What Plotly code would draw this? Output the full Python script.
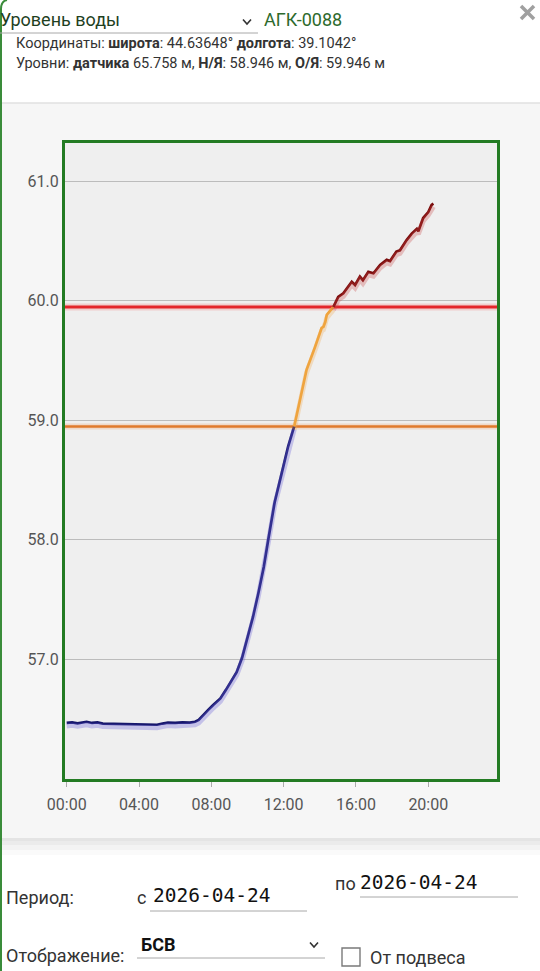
import plotly.graph_objects as go

# ---------------- data ----------------
DAY = "2026-04-24"
STATION = "АГК-0088"
LAT = "44.63648"
LON = "39.1042"
SENSOR = 65.758
NYA = 58.946   # Н/Я
OYA = 59.946   # О/Я

TIMES = [
    "00:00", "00:18", "00:36", "00:54", "01:06", "01:24", "01:42", "02:00", "02:30", "03:00",
    "03:30", "04:00", "04:30", "05:00", "05:18", "05:36", "06:00", "06:24", "06:48", "07:06",
    "07:18", "07:30", "07:48", "08:06", "08:30", "08:48", "09:06", "09:24", "09:42", "10:00",
    "10:18", "10:36", "10:54", "11:09", "11:30", "11:54", "12:15", "12:35",
    "12:54", "13:16", "13:44", "14:06", "14:12", "14:18", "14:23", "14:33", "14:45",
    "15:01", "15:18", "15:35", "15:46", "15:57", "16:13", "16:23", "16:41", "16:58", "17:20",
    "17:42", "17:53", "18:14", "18:26", "18:48", "19:05", "19:22", "19:27", "19:43", "20:00",
    "20:11", "20:17",
]
LEVELS = [
    56.465, 56.470, 56.462, 56.468, 56.475, 56.465, 56.470, 56.460, 56.458, 56.455,
    56.452, 56.455, 56.452, 56.450, 56.460, 56.468, 56.465, 56.470, 56.468, 56.475,
    56.490, 56.525, 56.570, 56.615, 56.670, 56.740, 56.820, 56.890, 57.010, 57.170,
    57.350, 57.550, 57.770, 58.000, 58.310, 58.560, 58.780, 58.946,
    59.180, 59.420, 59.610, 59.770, 59.780, 59.820, 59.880, 59.910, 59.946,
    60.030, 60.060, 60.115, 60.157, 60.130, 60.200, 60.170, 60.240, 60.228, 60.297,
    60.340, 60.330, 60.410, 60.420, 60.506, 60.560, 60.600, 60.580, 60.690, 60.740,
    60.800, 60.810,
]
Y_TICKS = [57.0, 58.0, 59.0, 60.0, 61.0]
X_TICKS = ["00:00", "04:00", "08:00", "12:00", "16:00", "20:00"]

# ---------------- layout helpers (pixels -> paper) ----------------
W, H = 540, 971
L, R, T, B = 65, 497, 143, 779


def X(px):
    return (px - L) / (R - L)


def Y(py):
    return (B - py) / (B - T)


stamps = [f"{DAY} {t}" for t in TIMES]

segments = [
    ([i for i, v in enumerate(LEVELS) if v <= NYA], "#17176c", "rgba(110,100,220,0.33)"),
    ([i for i, v in enumerate(LEVELS) if NYA <= v <= OYA], "#f0a238", "rgba(240,170,80,0.30)"),
    ([i for i, v in enumerate(LEVELS) if v >= OYA], "#7a0c0c", "rgba(200,70,70,0.30)"),
]

fig = go.Figure()
# shadows (drawn on an offset overlay axis)
for idx, col, shadow in segments:
    fig.add_trace(go.Scatter(
        x=[stamps[i] for i in idx], y=[LEVELS[i] for i in idx], mode="lines",
        line=dict(color=shadow, width=5), yaxis="y2", hoverinfo="skip"))
for idx, col, shadow in segments:
    fig.add_trace(go.Scatter(
        x=[stamps[i] for i in idx], y=[LEVELS[i] for i in idx], mode="lines",
        line=dict(color=col, width=2.7)))

Y0, Y1 = 55.996, 61.318
SHIFT = 3 / ((B - T) / (Y1 - Y0))
GREEN = "#237b23"

shapes = []
# white page areas above / below the chart card
shapes.append(dict(type="rect", xref="paper", yref="paper", x0=X(0), x1=X(W), y0=Y(0), y1=Y(103),
                   fillcolor="white", line_width=0, layer="below"))
shapes.append(dict(type="rect", xref="paper", yref="paper", x0=X(0), x1=X(W), y0=Y(840), y1=Y(H),
                   fillcolor="white", line_width=0, layer="below"))
for (a, b, c) in [(838, 841, "#e4e4e4"), (841, 845, "#ebebeb"), (845, 850, "#f3f3f3"), (850, 855, "#fafafa")]:
    shapes.append(dict(type="rect", xref="paper", yref="paper", x0=X(0), x1=X(W), y0=Y(a), y1=Y(b),
                       fillcolor=c, line_width=0, layer="below"))
shapes.append(dict(type="line", xref="paper", yref="paper", x0=X(0), x1=X(W), y0=Y(103), y1=Y(103),
                   line=dict(color="#e0e0e0", width=1.5), layer="below"))
# threshold lines
shapes.append(dict(type="line", xref="paper", yref="y", x0=0, x1=1, y0=OYA, y1=OYA,
                   line=dict(color="rgba(245,90,90,0.22)", width=7), layer="below"))
shapes.append(dict(type="line", xref="paper", yref="y", x0=0, x1=1, y0=OYA, y1=OYA,
                   line=dict(color="#e3262b", width=3), layer="below"))
shapes.append(dict(type="line", xref="paper", yref="y", x0=0, x1=1, y0=NYA, y1=NYA,
                   line=dict(color="rgba(240,140,70,0.22)", width=6), layer="below"))
shapes.append(dict(type="line", xref="paper", yref="y", x0=0, x1=1, y0=NYA, y1=NYA,
                   line=dict(color="#e07a2c", width=2.6), layer="below"))
# page left green border with rounded corner
shapes.append(dict(type="path", xref="paper", yref="paper",
                   path=f"M {X(1)},{Y(H)} L {X(1)},{Y(9)} Q {X(1)},{Y(1)} {X(7)},{Y(0)}",
                   line=dict(color="#3a8c3a", width=2), layer="above"))
# underlines
for (x0, x1, yy) in [(0, 258, 33), (150, 307, 911), (360, 518, 897), (137, 325, 958)]:
    shapes.append(dict(type="line", xref="paper", yref="paper", x0=X(x0), x1=X(x1), y0=Y(yy), y1=Y(yy),
                       line=dict(color="#a8a8a8", width=1), layer="above"))
# chevrons
for (cx, cy) in [(247, 22), (314, 945)]:
    shapes.append(dict(type="path", xref="paper", yref="paper",
                       path=f"M {X(cx-4)},{Y(cy-2.5)} L {X(cx)},{Y(cy+2)} L {X(cx+4)},{Y(cy-2.5)}",
                       line=dict(color="#333", width=1.6), layer="above"))
# close icon (X mark)
for (ax, ay, bx, by) in [(521, 6, 534, 19), (521, 19, 534, 6)]:
    shapes.append(dict(type="line", xref="paper", yref="paper", x0=X(ax), y0=Y(ay), x1=X(bx), y1=Y(by),
                       line=dict(color="#a0a0a0", width=3.5), layer="above"))
# checkbox
shapes.append(dict(type="rect", xref="paper", yref="paper", x0=X(342), x1=X(360), y0=Y(948), y1=Y(966),
                   line=dict(color="#7a7a7a", width=1.4), fillcolor="white", layer="above"))


def txt(x, y, s, size, color="#333", family="Roboto", xanchor="left"):
    return dict(x=X(x), y=Y(y), xref="paper", yref="paper", text=s, showarrow=False,
                xanchor=xanchor, yanchor="middle", borderpad=0,
                font=dict(size=size, color=color, family=family))


annotations = [
    txt(-1, 20, "Уровень воды", 18, "#1f3f1f"),
    txt(263, 20, STATION, 18, "#2d6a2d"),
    txt(15, 43, f"Координаты: <b>широта</b>: {LAT}° <b>долгота</b>: {LON}°", 14.5, "#333"),
    txt(15, 63, f"Уровни: <b>датчика</b> {SENSOR:.3f} м, <b>Н/Я</b>: {NYA:.3f} м, <b>О/Я</b>: {OYA:.3f} м", 14.5, "#333"),
    txt(5, 897, "Период:", 18, "#333"),
    txt(136, 897, "с", 18, "#333"),
    txt(152, 896, DAY, 19.5, "#111", "DejaVu Sans Mono"),
    txt(334, 883, "по", 18, "#333"),
    txt(359, 882, DAY, 19.5, "#111", "DejaVu Sans Mono"),
    txt(5, 956, "Отображение:", 18, "#333"),
    txt(140, 944, "<b>БСВ</b>", 18, "#111"),
    txt(369, 957, "От подвеса", 18, "#333"),
]

fig.update_layout(
    width=W, height=H,
    margin=dict(l=L, r=W - R, t=T, b=H - B, pad=0),
    paper_bgcolor="#f6f6f6", plot_bgcolor="#efefef",
    showlegend=False,
    font=dict(family="Roboto", size=16, color="#555"),
    xaxis=dict(type="date", range=["2026-04-23 23:54:20", f"{DAY} 23:48"],
               tickvals=[f"{DAY} {t}" for t in X_TICKS], ticktext=X_TICKS,
               ticks="outside", ticklen=5, tickcolor="#aaa", tickwidth=1,
               ticklabelstandoff=4,
               showgrid=False, zeroline=False, showline=True, mirror=True,
               linecolor=GREEN, linewidth=3, tickfont=dict(size=16, color="#555")),
    yaxis=dict(range=[Y0, Y1], tickvals=Y_TICKS, ticktext=[f"{v:.1f}" for v in Y_TICKS],
               showgrid=True, gridcolor="#bcbcbc", gridwidth=1, zeroline=False,
               showline=True, mirror=True, linecolor=GREEN, linewidth=3, ticks="",
               tickfont=dict(size=16, color="#555")),
    yaxis2=dict(range=[Y0 + SHIFT, Y1 + SHIFT], overlaying="y", visible=False),
    shapes=shapes,
    annotations=annotations,
)

fig.write_html("out.html", config={"displayModeBar": False},
               post_script="document.body.style.margin='0';document.body.style.overflow='hidden';")
